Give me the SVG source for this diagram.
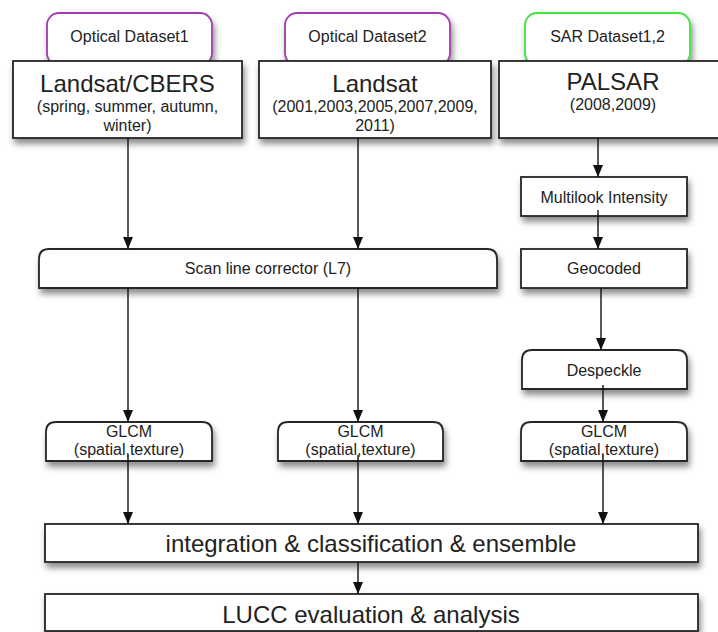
<svg xmlns="http://www.w3.org/2000/svg" width="718" height="632" viewBox="0 0 718 632">
<defs>
<filter id="sh" x="-10%" y="-20%" width="130%" height="160%">
<feDropShadow dx="2" dy="5" stdDeviation="3" flood-color="#000" flood-opacity="0.45"/>
</filter>
<marker id="ah" markerUnits="userSpaceOnUse" markerWidth="12" markerHeight="10" viewBox="0 0 12 10" refX="12" refY="5" orient="auto">
<path d="M0,0 L12,5 L0,10 Z" fill="#111"/>
</marker>
<style>
.box{fill:#fff;stroke:#262626;stroke-width:1.8;filter:url(#sh)}
.pp{fill:#fff;stroke:#a23bb0;stroke-width:1.8;filter:url(#sh)}
.pg{fill:#fff;stroke:#3de63d;stroke-width:1.8;filter:url(#sh)}
text{font-family:"Liberation Sans",Arial,sans-serif;fill:#222;text-anchor:middle}
.t16{font-size:16px}
.t24{font-size:24px}
.c line{stroke:#111;stroke-width:1.4}
</style>
</defs>
<rect width="718" height="632" fill="#fff"/>
<g id="pill1"><rect class="pp" x="47" y="13" width="165" height="52" rx="12"/><text class="t16" x="129.5" y="42">Optical Dataset1</text></g>
<g id="pill2"><rect class="pp" x="285" y="13" width="165" height="52" rx="12"/><text class="t16" x="367.5" y="42">Optical Dataset2</text></g>
<g id="pill3"><rect class="pg" x="525" y="13" width="165" height="52" rx="12"/><text class="t16" x="607.5" y="42">SAR Dataset1,2</text></g>
<g id="landsatcbers"><rect class="box" x="13" y="61" width="229" height="77"/><text class="t24" x="127.5" y="92">Landsat/CBERS</text><text class="t16" x="127.5" y="112">(spring, summer, autumn,</text><text class="t16" x="127.5" y="131">winter)</text></g>
<g id="landsat"><rect class="box" x="259" y="61" width="232" height="77"/><text class="t24" x="375" y="92">Landsat</text><text class="t16" x="375" y="112">(2001,2003,2005,2007,2009,</text><text class="t16" x="375" y="131">2011)</text></g>
<g id="palsar"><rect class="box" x="499" y="61" width="228" height="77"/><text class="t24" x="613" y="90">PALSAR</text><text class="t16" x="613" y="110">(2008,2009)</text></g>
<g id="scanline"><path class="box" d="M39,288 V259 Q39,249 49,249 H487 Q497,249 497,259 V288 Z"/><text class="t16" x="268" y="274">Scan line corrector (L7)</text></g>
<g id="multilook"><rect class="box" x="521" y="177" width="166" height="39"/><text class="t16" x="604" y="203">Multilook Intensity</text></g>
<g id="geocoded"><rect class="box" x="521" y="249" width="166" height="39"/><text class="t16" x="604" y="274">Geocoded</text></g>
<g id="despeckle"><path class="box" d="M522,389 V360 Q522,350 532,350 H677 Q687,350 687,360 V389 Z"/><text class="t16" x="604" y="376">Despeckle</text></g>
<g id="glcm1"><path class="box" d="M46,461 V432 Q46,422 56,422 H202 Q212,422 212,432 V461 Z"/><text class="t16" x="129" y="437">GLCM</text><text class="t16" x="129" y="455">(spatial,texture)</text></g>
<g id="glcm2"><path class="box" d="M278,461 V432 Q278,422 288,422 H433 Q443,422 443,432 V461 Z"/><text class="t16" x="360.5" y="437">GLCM</text><text class="t16" x="360.5" y="455">(spatial,texture)</text></g>
<g id="glcm3"><path class="box" d="M521,461 V432 Q521,422 531,422 H677 Q687,422 687,432 V461 Z"/><text class="t16" x="604" y="437">GLCM</text><text class="t16" x="604" y="455">(spatial,texture)</text></g>
<g id="integration"><rect class="box" x="45" y="524" width="653" height="38"/><text class="t24" x="371" y="552">integration &amp; classification &amp; ensemble</text></g>
<g id="lucc"><rect class="box" x="45" y="594" width="653" height="37"/><text class="t24" x="371" y="623">LUCC evaluation &amp; analysis</text></g>
<g id="connectors" class="c">
<line x1="128" y1="138" x2="128" y2="249" marker-end="url(#ah)"/>
<line x1="358" y1="138" x2="358" y2="249" marker-end="url(#ah)"/>
<line x1="598" y1="138" x2="598" y2="177" marker-end="url(#ah)"/>
<line x1="598" y1="210" x2="598" y2="249" marker-end="url(#ah)"/>
<line x1="601" y1="288" x2="601" y2="350" marker-end="url(#ah)"/>
<line x1="128" y1="288" x2="128" y2="422" marker-end="url(#ah)"/>
<line x1="358" y1="288" x2="358" y2="422" marker-end="url(#ah)"/>
<line x1="603" y1="385" x2="603" y2="422" marker-end="url(#ah)"/>
<line x1="128" y1="455" x2="128" y2="524" marker-end="url(#ah)"/>
<line x1="358" y1="455" x2="358" y2="524" marker-end="url(#ah)"/>
<line x1="603" y1="455" x2="603" y2="524" marker-end="url(#ah)"/>
<line x1="358" y1="562" x2="358" y2="594" marker-end="url(#ah)"/>
</g>
</svg>
